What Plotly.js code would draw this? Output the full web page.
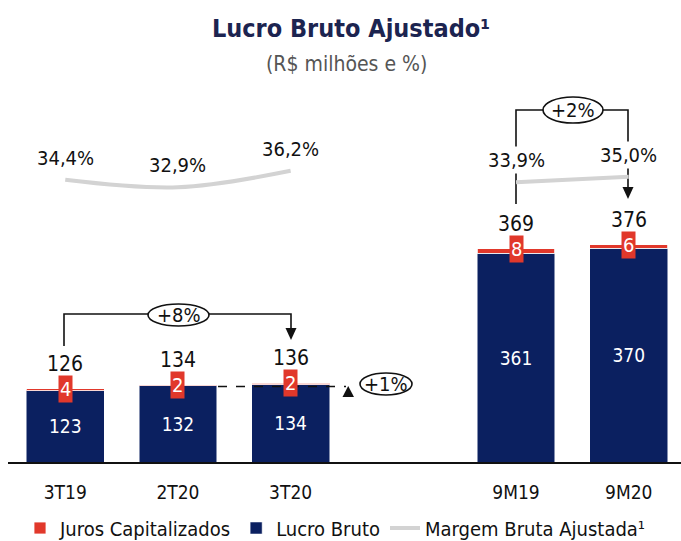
<!DOCTYPE html>
<html>
<head>
<meta charset="utf-8">
<script src="https://cdn.plot.ly/plotly-3.0.1.min.js"></script>
<style>html,body{margin:0;padding:0;background:#fff;}#chart{width:681px;height:541px;}</style>
</head>
<body>
<div id="chart"></div>
<script>
// ---- data ----
const categories = ["3T19", "2T20", "3T20", " ", "9M19", "9M20"];
const lucroBruto = [123, 132, 134, null, 361, 370];
const jurosCap = [4, 2, 2, null, 8, 6];
const totals = [126, 134, 136, null, 369, 376];
const margem = [34.4, 32.9, 36.2, null, 33.9, 35.0];

// ---- styling ----
const FONT = '"DejaVu Sans Condensed", "Liberation Sans Narrow", Roboto, sans-serif';
const NAVY = '#0b2060';
const RED = '#e1382b';
const GRAY = '#d3d3d3';

// pixel helpers for decorative brackets (plot area: x 8..681, y 80..462)
const L = 8, R = 681, T = 80, B = 462;
const xp = p => (p - L) / (R - L);
const yp = p => (B - p) / (B - T);

const traces = [
  {
    type: 'bar', name: 'Lucro Bruto', x: categories, y: lucroBruto,
    marker: {color: NAVY, line: {color: 'rgba(255,255,255,0.5)', width: 1}},
    text: lucroBruto.map(v => v == null ? '' : String(v)),
    textposition: 'inside', insidetextanchor: 'middle', textangle: 0,
    textfont: {family: FONT, size: 19, color: '#ffffff'},
    hoverinfo: 'skip', legendrank: 2
  },
  {
    type: 'bar', name: 'Juros Capitalizados', x: categories, y: jurosCap,
    marker: {color: RED, line: {color: 'rgba(255,255,255,0.8)', width: 1}},
    textposition: 'none', hoverinfo: 'skip', legendrank: 1
  },
  {
    type: 'scatter', mode: 'lines', name: 'Margem Bruta Ajustada¹', x: categories, y: margem,
    yaxis: 'y2', connectgaps: false,
    line: {color: GRAY, width: 4, shape: 'spline', smoothing: 1},
    hoverinfo: 'skip', legendrank: 3
  }
];

const annotations = [];
categories.forEach((c, i) => {
  if (lucroBruto[i] == null) return;
  const top = lucroBruto[i] + jurosCap[i];
  annotations.push({
    x: c, y: top, xref: 'x', yref: 'y', text: String(totals[i]), showarrow: false,
    yshift: 25, font: {family: FONT, size: 21, color: '#111'}
  });
  annotations.push({
    x: c, y: top, xref: 'x', yref: 'y', text: String(jurosCap[i]), showarrow: false,
    bgcolor: RED, borderpad: 1, font: {family: FONT, size: 20, color: '#fff'}
  });
  annotations.push({
    x: c, y: margem[i], xref: 'x', yref: 'y2',
    text: margem[i].toFixed(1).replace('.', ',') + '%', showarrow: false,
    yshift: 22, bgcolor: i >= 4 ? '#ffffff' : 'rgba(0,0,0,0)', borderpad: 1,
    font: {family: FONT, size: 20, color: '#111'}
  });
});

// subtitle
annotations.push({
  xref: 'paper', yref: 'paper', x: xp(346), y: yp(64), xanchor: 'center', yanchor: 'middle',
  text: '(R$ milhões e %)', showarrow: false, font: {family: FONT, size: 21, color: '#555'}
});
// ellipse labels
[['+8%', 178.5, 315], ['+2%', 573, 110], ['+1%', 386, 384]].forEach(([t, cx, cy]) => {
  annotations.push({xref: 'paper', yref: 'paper', x: xp(cx), y: yp(cy), xanchor: 'center', yanchor: 'middle',
    text: t, showarrow: false, font: {family: FONT, size: 20, color: '#111'}});
});

const blk = {color: '#111', width: 1.6};
const shapes = [
  // +8% bracket
  {type: 'path', xref: 'paper', yref: 'paper', line: blk, layer: 'below',
   path: `M${xp(64)},${yp(346)} L${xp(64)},${yp(314)} L${xp(291)},${yp(314)} L${xp(291)},${yp(329)}`},
  {type: 'path', xref: 'paper', yref: 'paper', line: {width: 0}, fillcolor: '#111',
   path: `M${xp(285.5)},${yp(328)} L${xp(296.5)},${yp(328)} L${xp(291)},${yp(340)} Z`},
  {type: 'circle', xref: 'paper', yref: 'paper', line: blk, fillcolor: '#fff',
   x0: xp(148), x1: xp(209), y0: yp(304), y1: yp(326)},
  // +2% bracket
  {type: 'path', xref: 'paper', yref: 'paper', line: blk, layer: 'below',
   path: `M${xp(516)},${yp(204)} L${xp(516)},${yp(110)} L${xp(628)},${yp(110)} L${xp(628)},${yp(188)}`},
  {type: 'path', xref: 'paper', yref: 'paper', line: {width: 0}, fillcolor: '#111',
   path: `M${xp(622.5)},${yp(187)} L${xp(633.5)},${yp(187)} L${xp(628)},${yp(199)} Z`},
  {type: 'circle', xref: 'paper', yref: 'paper', line: blk, fillcolor: '#fff',
   x0: xp(543), x1: xp(603), y0: yp(97), y1: yp(123)},
  // +1% dashed + triangle + ellipse
  {type: 'line', xref: 'paper', yref: 'paper', line: {color: '#111', width: 1.3, dash: 'dash'},
   x0: xp(218), x1: xp(346), y0: yp(386.5), y1: yp(386.5)},
  {type: 'path', xref: 'paper', yref: 'paper', line: {width: 0}, fillcolor: '#111',
   path: `M${xp(342.5)},${yp(397)} L${xp(354)},${yp(397)} L${xp(348.2)},${yp(386)} Z`},
  {type: 'circle', xref: 'paper', yref: 'paper', line: blk, fillcolor: '#fff',
   x0: xp(360), x1: xp(412), y0: yp(373), y1: yp(395)}
];

const layout = {
  width: 681, height: 541,
  margin: {l: L, r: 681 - R, t: T, b: 541 - B, autoexpand: false},
  paper_bgcolor: '#fff', plot_bgcolor: '#fff',
  font: {family: FONT, color: '#111'},
  title: {text: 'Lucro Bruto Ajustado¹', xref: 'container', x: 351 / 681, xanchor: 'center',
          yref: 'container', y: 1 - 28 / 541, yanchor: 'middle',
          font: {family: FONT, size: 25, weight: 'bold', color: '#1c2450'}},
  barmode: 'stack', bargap: 0.31,
  showlegend: true,
  legend: {orientation: 'h', traceorder: 'normal', x: xp(20), xanchor: 'left', y: yp(528), yanchor: 'middle',
           font: {family: FONT, size: 20, color: '#111'}, bgcolor: 'rgba(0,0,0,0)'},
  xaxis: {type: 'category', categoryorder: 'array', categoryarray: categories,
          range: [-0.508, 5.464], showline: true, linecolor: '#111', linewidth: 2,
          ticks: '', ticklabelstandoff: 12, showgrid: false, zeroline: false,
          tickfont: {family: FONT, size: 19, color: '#111'}, fixedrange: true},
  yaxis: {range: [0, (B - T) / 0.578], visible: false, showgrid: false, zeroline: false, fixedrange: true},
  yaxis2: {overlaying: 'y', range: [34.48 - (B - 179.4) / 5, 34.48 + (179.4 - T) / 5],
           visible: false, showgrid: false, zeroline: false, fixedrange: true},
  annotations: annotations,
  shapes: shapes
};

Plotly.newPlot('chart', traces, layout, {staticPlot: true, displayModeBar: false});
</script>
</body>
</html>
